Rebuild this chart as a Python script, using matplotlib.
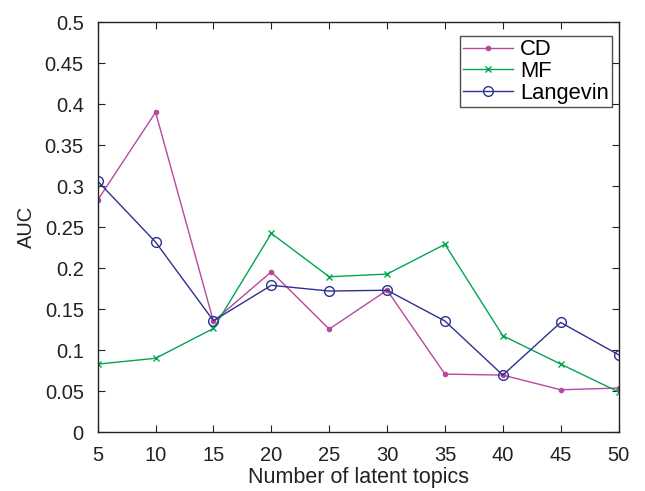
import matplotlib
matplotlib.use("Agg")
import matplotlib.pyplot as plt

plt.rcParams['font.family'] = ['Liberation Sans', 'DejaVu Sans']

topics = [5, 10, 15, 20, 25, 30, 35, 40, 45, 50]
cd = [0.283, 0.390, 0.135, 0.1955, 0.1256, 0.173, 0.0707, 0.0695, 0.0516, 0.0537]
mf = [0.0829, 0.090, 0.1264, 0.2423, 0.1894, 0.1927, 0.229, 0.1175, 0.0829, 0.049]
langevin = [0.306, 0.2317, 0.1358, 0.179, 0.172, 0.173, 0.1354, 0.0695, 0.1337, 0.0943]

xticks = [5, 10, 15, 20, 25, 30, 35, 40, 45, 50]
yticks = [0, 0.05, 0.1, 0.15, 0.2, 0.25, 0.3, 0.35, 0.4, 0.45, 0.5]
ytick_labels = ['0', '0.05', '0.1', '0.15', '0.2', '0.25', '0.3', '0.35', '0.4', '0.45', '0.5']

fig = plt.figure(figsize=(6.45, 4.91), dpi=100)
ax = fig.add_axes([0.1515, 0.120, 0.8075, 0.835])

ax.plot(topics, cd, color='#b8479f', marker='.', markersize=6, linewidth=1.0, label='CD')
ax.plot(topics, mf, color='#00a651', marker='x', markersize=5, markeredgewidth=1.0, linewidth=1.0, label='MF')
ax.plot(topics, langevin, color='#2e3192', marker='o', markersize=7, markerfacecolor='none',
        markeredgewidth=1.0, linewidth=1.0, label='Langevin')

ax.set_xlim(5, 50)
ax.set_ylim(0, 0.5)
ax.set_xticks(xticks)
ax.set_xticklabels([str(t) for t in xticks])
ax.set_yticks(yticks)
ax.set_yticklabels(ytick_labels)
ax.tick_params(direction='in', top=True, right=True, length=5, labelsize=14.5, pad=10, colors='#222222')
for s in ax.spines.values():
    s.set_linewidth(1.0)
    s.set_color('#222222')

ax.set_xlabel('Number of latent topics', fontsize=15.5, color='#222222')
ax.xaxis.set_label_coords(0.5, -0.086)
ax.set_ylabel('AUC', fontsize=14.5, color='#222222')
ax.yaxis.set_label_coords(-0.1194, 0.5)

leg = ax.legend(loc='upper right', bbox_to_anchor=(612 / 645, 1 - 36 / 491),
                bbox_transform=fig.transFigure, borderaxespad=0,
                fontsize=15.8, frameon=True, fancybox=False, edgecolor='#222222',
                borderpad=0.15, labelspacing=0.03, handlelength=2.3, handletextpad=0.3)
leg.get_frame().set_linewidth(1.0)

fig.savefig('out.png', dpi=100)
